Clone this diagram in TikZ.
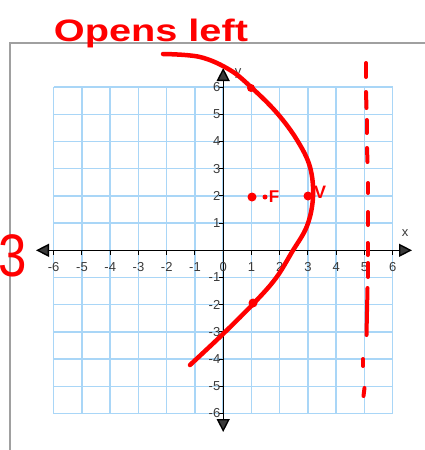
\documentclass[tikz,border=0pt]{standalone}
\usepackage{fontspec}
\setmainfont{Liberation Sans}
\usetikzlibrary{arrows.meta}
\definecolor{gridblue}{HTML}{A9D6F7}
\definecolor{ink}{HTML}{FF0000}
\definecolor{labelgray}{HTML}{3A3A3A}
\definecolor{framegray}{HTML}{A0A0A0}
\tikzset{
  gridline/.style={draw=gridblue, line width=1.5pt},
  axisline/.style={draw=black, line width=1.4pt, {Triangle[length=13pt,width=13pt,fill=labelgray]}-{Triangle[length=13pt,width=13pt,fill=labelgray]}, color=black},
  ticklab/.style={font=\fontsize{13}{13}\selectfont, text=labelgray, inner sep=0pt},
  marker/.style={draw=ink, line width=4pt, line cap=round, line join=round},
  inkdot/.style={fill=ink, draw=none},
  inktext/.style={text=ink, font=\bfseries, inner sep=0pt}
}
\begin{document}
\begin{tikzpicture}[x=1pt,y=-1pt]
\useasboundingbox (0,0) rectangle (425,450);
% frame
\draw[framegray, line width=1.5pt] (10,450) -- (10,43) -- (425,43);
% grid
\foreach \k in {-6,...,6} {
  \draw[gridline] ({223.2+28.25*\k},87.1) -- ({223.2+28.25*\k},413.5);
  \draw[gridline] (53.7,{250.3-27.2*\k}) -- (392.7,{250.3-27.2*\k});
}
% axes
\coordinate (xl) at (36,250.3);
\coordinate (xr) at (412,250.3);
\coordinate (yt) at (223.2,68);
\coordinate (yb) at (223.2,432);
\draw[axisline] (xl) -- (xr);
\draw[axisline] (yb) -- (yt);
\node[ticklab, text=labelgray] (xlab) at (405,233) {x};
\node[ticklab, text=labelgray] (ylab) at (238,73) {y};
% ticks and labels
\foreach \k in {-6,...,-1,1,2,...,6} {
  \draw[black, line width=1pt] ({223.2+28.25*\k},250.3) -- ({223.2+28.25*\k},255);
  \draw[black, line width=1pt] (219,{250.3-27.2*\k}) -- (223.2,{250.3-27.2*\k});
  \node[ticklab] (xt\k) at ({223.2+28.25*\k},267) {\k};
  \node[ticklab, anchor=east] (yt\k) at (220.5,{250.3-27.2*\k}) {\k};
}
\node[ticklab] (zero) at (223.2,267) {0};
% red annotations
\node[inktext, font=\bfseries\fontsize{31}{31}\selectfont, xscale=1.28] (title) at (151,33) {Opens left};
\node[inktext, font=\fontsize{60}{60}\selectfont, xscale=0.85] (three) at (13,256) {3};
\draw[marker, line width=4.5pt] plot[smooth, tension=0.6] coordinates {
  (163,54) (200,57) (230,70) (252,88) (277,113) (297,140) (310,167) (313,197)
  (307,226) (292,252) (276,278) (255,302) (223,334) (190,365)};
% dashed directrix
\foreach \a/\b/\c/\d in {366/63/366/77, 366/92/366.5/108, 366.5/120/366.5/133, 367/148/367.5/162,
  368/183/368/193, 368/212/368/225, 367.5/243/367.5/255, 368/263/368/277, 367.5/288/366.5/335,
  363/359/363/366, 364.5/388/363.5/396} {
  \draw[marker, line width=4pt] (\a,\b) -- (\c,\d);
}
% points
\fill[inkdot] (251,88) circle (4);
\fill[inkdot] (252,197) circle (4.5);
\fill[inkdot] (265,197) circle (2.5);
\fill[inkdot] (308,196) circle (4.5);
\fill[inkdot] (253,303) circle (4.5);
\node[inktext, font=\bfseries\fontsize{17}{17}\selectfont] (flab) at (274,197) {F};
\node[inktext, font=\bfseries\fontsize{18}{18}\selectfont] (vlab) at (320,192) {V};
\end{tikzpicture}
\end{document}
